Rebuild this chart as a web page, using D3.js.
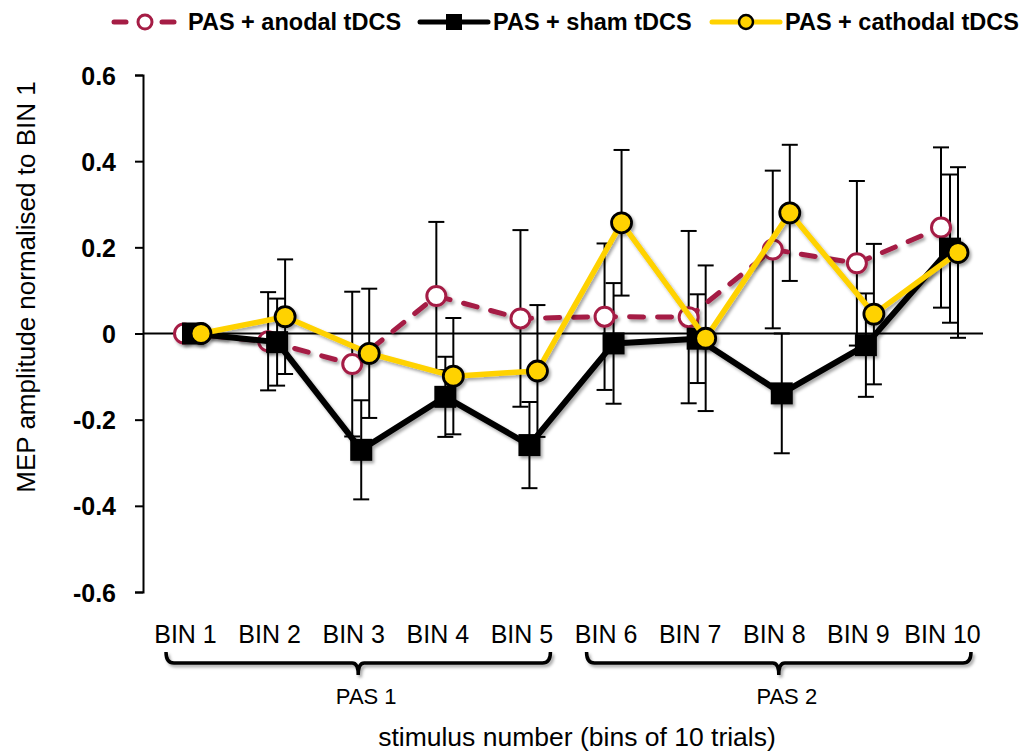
<!DOCTYPE html>
<html>
<head>
<meta charset="utf-8">
<script src="https://cdn.jsdelivr.net/npm/d3@7"></script>
<style>
  body { margin: 0; background: #fff; }
  svg { display: block; font-family: "Liberation Sans", Arial, sans-serif; }
  .axis path, .axis line { stroke: #000; stroke-width: 2; }
  .axis text { font-size: 25px; font-weight: bold; fill: #000; }
  .bin-axis text { font-size: 25px; font-weight: normal; fill: #000; }
  .legend-label { font-size: 23.5px; font-weight: bold; }
</style>
</head>
<body>
<svg id="chart" width="1026" height="755" viewBox="0 0 1026 755"></svg>
<script>
const bins = ["BIN 1", "BIN 2", "BIN 3", "BIN 4", "BIN 5", "BIN 6", "BIN 7", "BIN 8", "BIN 9", "BIN 10"];

const anodalMean = [0, -0.018, -0.071, 0.087, 0.035, 0.039, 0.038, 0.195, 0.163, 0.246];
const anodalErr = [0, 0.114, 0.168, 0.172, 0.205, 0.170, 0.200, 0.183, 0.191, 0.186];
const shamMean = [0, -0.020, -0.270, -0.147, -0.259, -0.023, -0.012, -0.139, -0.027, 0.197];
const shamErr = [0, 0.101, 0.115, 0.093, 0.100, 0.140, 0.103, 0.139, 0.120, 0.172];
const cathodalMean = [0, 0.039, -0.046, -0.099, -0.087, 0.257, -0.011, 0.280, 0.045, 0.188];
const cathodalErr = [0, 0.133, 0.150, 0.135, 0.153, 0.169, 0.169, 0.158, 0.163, 0.198];

const seriesNames = ["PAS + anodal tDCS", "PAS + sham tDCS", "PAS + cathodal tDCS"];

const yTickValues = [-0.6, -0.4, -0.2, 0, 0.2, 0.4, 0.6];
const yTickLabels = ["-0.6", "-0.4", "-0.2", "0", "0.2", "0.4", "0.6"];

const blockLabels = ["PAS 1", "PAS 2"];
const blockFirst = ["BIN 1", "BIN 6"];
const blockLast = ["BIN 5", "BIN 10"];

const yTitle = "MEP amplitude normalised to BIN 1";
const xTitle = "stimulus number (bins of 10 trials)";

const svg = d3.select("#chart");
const axisX = 143;
const zeroEnd = 983;

const x = d3.scalePoint().domain(bins).range([193, 950]);
const y = d3.scaleLinear().domain([-0.6, 0.6]).range([592, 75]);

const series = [
  { name: seriesNames[0], mean: anodalMean, err: anodalErr, dx: -9, color: "#a51d45", shape: "openCircle", dash: "14 14", width: 5 },
  { name: seriesNames[1], mean: shamMean, err: shamErr, dx: 0, color: "#000", shape: "square", dash: null, width: 6 },
  { name: seriesNames[2], mean: cathodalMean, err: cathodalErr, dx: 8, color: "#ffd200", shape: "circle", dash: null, width: 5.5 }
];

const defs = svg.append("defs");
const shadow = defs.append("filter").attr("id", "shadow")
  .attr("x", "-30%").attr("y", "-30%").attr("width", "160%").attr("height", "160%");
shadow.append("feDropShadow")
  .attr("dx", 2).attr("dy", 2.5).attr("stdDeviation", 1.8)
  .attr("flood-color", "#000").attr("flood-opacity", 0.35);

// y axis
const yAxis = svg.append("g")
  .attr("class", "axis")
  .attr("transform", `translate(${axisX},0)`)
  .call(d3.axisLeft(y)
    .tickValues(yTickValues)
    .tickFormat((d, i) => yTickLabels[i])
    .tickSize(8)
    .tickPadding(19)
    .tickSizeOuter(8));
yAxis.selectAll("text").attr("dy", "0.36em");

// zero line
svg.append("line")
  .attr("x1", axisX).attr("x2", zeroEnd)
  .attr("y1", y(0)).attr("y2", y(0))
  .attr("stroke", "#000").attr("stroke-width", 2);

// bin labels
const binAxis = svg.append("g")
  .attr("class", "bin-axis")
  .attr("transform", "translate(-8,643)")
  .call(d3.axisBottom(x).tickSize(0).tickPadding(0));
binAxis.select(".domain").remove();
binAxis.selectAll("text").attr("dy", 0);

// error bars
const capHalf = 8;
const errGroup = svg.append("g").attr("stroke", "#000").attr("stroke-width", 2);
series.forEach(s => {
  const pts = bins.map((b, i) => ({ b, m: s.mean[i], e: s.err[i] })).filter(p => p.e > 0);
  const g = errGroup.append("g");
  g.selectAll("line.v").data(pts).join("line").attr("class", "v")
    .attr("x1", p => x(p.b) + s.dx).attr("x2", p => x(p.b) + s.dx)
    .attr("y1", p => y(p.m + p.e)).attr("y2", p => y(p.m - p.e));
  g.selectAll("line.t").data(pts).join("line").attr("class", "t")
    .attr("x1", p => x(p.b) + s.dx - capHalf).attr("x2", p => x(p.b) + s.dx + capHalf)
    .attr("y1", p => y(p.m + p.e)).attr("y2", p => y(p.m + p.e));
  g.selectAll("line.b").data(pts).join("line").attr("class", "b")
    .attr("x1", p => x(p.b) + s.dx - capHalf).attr("x2", p => x(p.b) + s.dx + capHalf)
    .attr("y1", p => y(p.m - p.e)).attr("y2", p => y(p.m - p.e));
});

function drawMarker(sel, shape, size) {
  if (shape === "square") {
    sel.append("rect")
      .attr("x", -size).attr("y", -size)
      .attr("width", size * 2).attr("height", size * 2)
      .attr("fill", "#000");
  } else if (shape === "openCircle") {
    sel.append("circle").attr("r", size - 1)
      .attr("fill", "#fff").attr("stroke", "#a51d45").attr("stroke-width", 3);
  } else {
    sel.append("circle").attr("r", size - 0.5)
      .attr("fill", "#ffd200").attr("stroke", "#000").attr("stroke-width", 2.8);
  }
}

// series lines + markers
series.forEach(s => {
  const g = svg.append("g").attr("filter", "url(#shadow)");
  const line = d3.line()
    .x((d, i) => x(bins[i]) + s.dx)
    .y(d => y(d));
  g.append("path")
    .attr("d", line(s.mean))
    .attr("fill", "none")
    .attr("stroke", s.color)
    .attr("stroke-width", s.width)
    .attr("stroke-linecap", s.dash ? "round" : "butt")
    .attr("stroke-linejoin", "round")
    .attr("stroke-dasharray", s.dash);
  g.selectAll("g.pt").data(s.mean).join("g").attr("class", "pt")
    .attr("transform", (d, i) => `translate(${x(bins[i]) + s.dx},${y(d)})`)
    .each(function () { drawMarker(d3.select(this), s.shape, s.shape === "square" ? 11 : 10.5); });
});

// brackets for PAS blocks
const bracketTop = 652;
const bracketBar = 663;
const bracketTip = 675;
blockLabels.forEach((label, i) => {
  const left = x(blockFirst[i]) - 27;
  const right = x(blockLast[i]) + 21;
  const mid = (left + right) / 2;
  const path = d3.path();
  path.moveTo(left, bracketTop);
  path.quadraticCurveTo(left, bracketBar, left + 8, bracketBar);
  path.lineTo(mid - 6, bracketBar);
  path.quadraticCurveTo(mid, bracketBar, mid, bracketTip);
  path.quadraticCurveTo(mid, bracketBar, mid + 6, bracketBar);
  path.lineTo(right - 8, bracketBar);
  path.quadraticCurveTo(right, bracketBar, right, bracketTop);
  svg.append("path")
    .attr("d", path.toString())
    .attr("fill", "none")
    .attr("stroke", "#000")
    .attr("stroke-width", 3.5)
    .attr("filter", "url(#shadow)");
  svg.append("text")
    .attr("x", mid + 8).attr("y", 704)
    .attr("text-anchor", "middle")
    .attr("font-size", 22)
    .text(label);
});

// axis titles
svg.append("text")
  .attr("x", 577).attr("y", 746)
  .attr("text-anchor", "middle")
  .attr("font-size", 26.5)
  .text(xTitle);

svg.append("text")
  .attr("transform", "translate(35,287) rotate(-90)")
  .attr("text-anchor", "middle")
  .attr("font-size", 26)
  .text(yTitle);

// legend
const legendX = [112, 418, 710];
const legendY = 22;
series.forEach((s, i) => {
  const g = svg.append("g").attr("transform", `translate(${legendX[i]},${legendY})`);
  if (s.dash) {
    g.append("line").attr("x1", 2).attr("x2", 14).attr("stroke", s.color)
      .attr("stroke-width", 5).attr("stroke-linecap", "round");
    g.append("line").attr("x1", 50).attr("x2", 62).attr("stroke", s.color)
      .attr("stroke-width", 5).attr("stroke-linecap", "round");
  } else {
    g.append("line").attr("x1", 2).attr("x2", 70).attr("stroke", s.color)
      .attr("stroke-width", 5).attr("stroke-linecap", "round");
  }
  const m = g.append("g").attr("transform", `translate(${s.dash ? 33 : 36},0)`);
  if (s.shape === "square") {
    m.append("rect").attr("x", -8).attr("y", -8).attr("width", 16).attr("height", 16).attr("fill", "#000");
  } else if (s.shape === "openCircle") {
    m.append("circle").attr("r", 7).attr("fill", "#fff").attr("stroke", s.color).attr("stroke-width", 3);
  } else {
    m.append("circle").attr("r", 7).attr("fill", s.color).attr("stroke", "#000").attr("stroke-width", 2.5);
  }
  g.append("text")
    .attr("class", "legend-label")
    .attr("x", s.dash ? 76 : 75)
    .attr("dy", "0.35em")
    .text(s.name);
});
</script>
</body>
</html>
